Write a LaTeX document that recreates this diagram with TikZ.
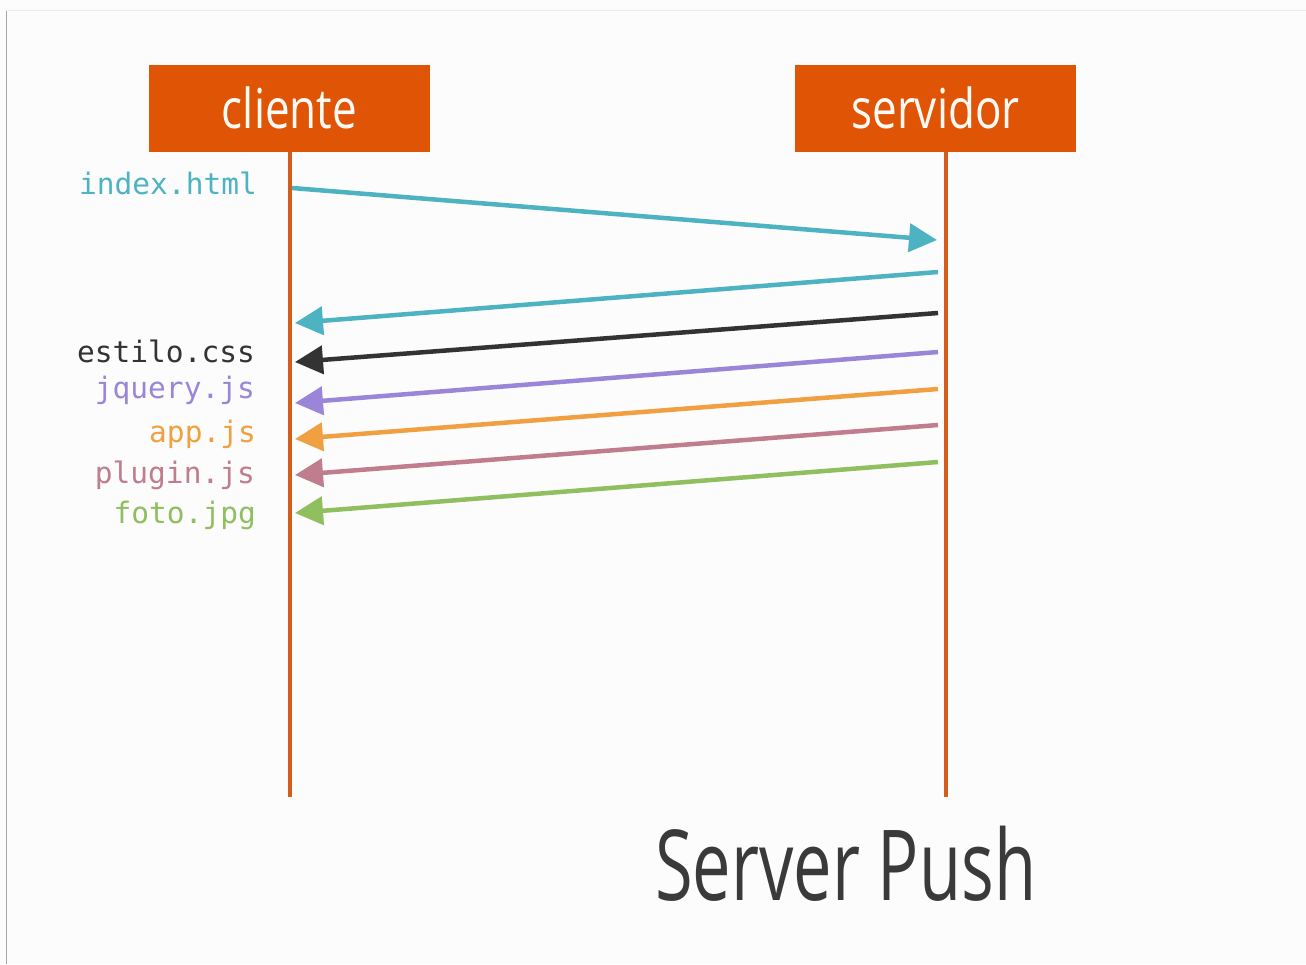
\documentclass[tikz,border=0pt]{standalone}
\usepackage{fontspec}
\usetikzlibrary{arrows.meta}
\newfontfamily\headfont[FakeStretch=0.80]{Open Sans}
\newfontfamily\titlefont[FakeStretch=0.70]{Open Sans}
\newfontfamily\monofont{DejaVu Sans Mono}
\definecolor{boxorange}{HTML}{E05406}
\definecolor{lifeorange}{HTML}{D35E1C}
\definecolor{ccyan}{HTML}{4DB3C3}
\definecolor{cblack}{HTML}{333333}
\definecolor{cpurple}{HTML}{9B85D8}
\definecolor{corange}{HTML}{F0A040}
\definecolor{cpink}{HTML}{C07D8E}
\definecolor{cgreen}{HTML}{8FBF5F}
\definecolor{titlegray}{HTML}{3A3A3A}
\tikzset{
  actorbox/.style={fill=boxorange, minimum width=281pt, minimum height=87pt, inner sep=0pt},
  actortext/.style={anchor=base, inner sep=0pt, text=white!96!orange, font=\headfont\fontsize{55}{55}\selectfont},
  lifeline/.style={draw=lifeorange, line width=4pt},
  msg/.style={line width=4.5pt, -{Triangle[length=28pt,width=28pt]}},
  filelabel/.style={anchor=base east, inner sep=0pt, font=\monofont\fontsize{29.5}{29.5}\selectfont}
}
\begin{document}
\begin{tikzpicture}[x=1pt,y=-1pt]
\useasboundingbox (0,0) rectangle (1306,964);
\fill[white!99!black] (0,0) rectangle (1306,964);
\draw[gray!70, line width=1pt] (6,10) -- (6,964);
\draw[gray!15, line width=1pt] (6,10) -- (1306,10);

\node[actorbox] (cli) at (289.5,108.5) {};
\node[actorbox] (srv) at (935.5,108.5) {};
\node[actortext] (clitext) at (289.5,128) {cliente};
\node[actortext] (srvtext) at (935.5,128) {servidor};

\coordinate (cliend) at (290,797);
\coordinate (srvend) at (946,797);
\draw[lifeline] (cli.south -| cliend) -- (cliend);
\draw[lifeline] (srv.south -| srvend) -- (srvend);

% message endpoints
\coordinate (a1s) at (292,188); \coordinate (a1e) at (937,240);
\coordinate (a2s) at (938,272); \coordinate (a2e) at (295,323);
\coordinate (a3s) at (938,313); \coordinate (a3e) at (295,362);
\coordinate (a4s) at (938,352); \coordinate (a4e) at (295,403);
\coordinate (a5s) at (938,389); \coordinate (a5e) at (295,439);
\coordinate (a6s) at (938,425); \coordinate (a6e) at (295,475);
\coordinate (a7s) at (938,462); \coordinate (a7e) at (295,513);

\draw[msg, ccyan] (a1s) -- (a1e);
\draw[msg, ccyan] (a2s) -- (a2e);
\draw[msg, cblack] (a3s) -- (a3e);
\draw[msg, cpurple] (a4s) -- (a4e);
\draw[msg, corange] (a5s) -- (a5e);
\draw[msg, cpink] (a6s) -- (a6e);
\draw[msg, cgreen] (a7s) -- (a7e);

\node[filelabel, text=ccyan] (l1) at (257,194) {index.html};
\node[filelabel, text=cblack] (l3) at (255,362) {estilo.css};
\node[filelabel, text=cpurple] (l4) at (255,398) {jquery.js};
\node[filelabel, text=corange] (l5) at (256,442) {app.js};
\node[filelabel, text=cpink] (l6) at (255,483) {plugin.js};
\node[filelabel, text=cgreen] (l7) at (256,523) {foto.jpg};

\node[anchor=base west, inner sep=0pt, text=titlegray, font=\titlefont\fontsize{98}{98}\selectfont] (title) at (655,900) {Server Push};
\end{tikzpicture}
\end{document}
